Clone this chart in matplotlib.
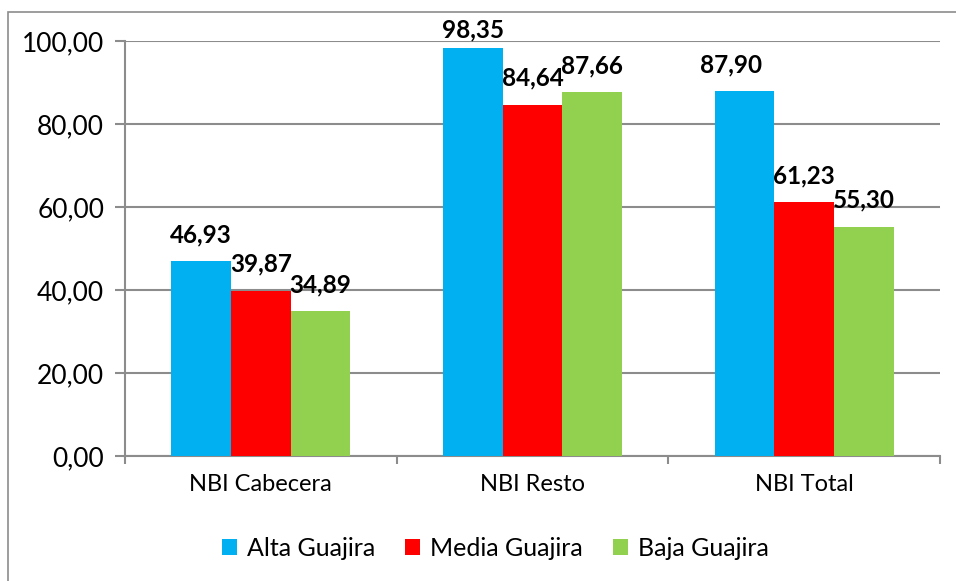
import matplotlib
matplotlib.use("Agg")
import matplotlib.pyplot as plt
from matplotlib.patches import Rectangle
from matplotlib.ticker import FuncFormatter
import numpy as np

categories = ["NBI Cabecera", "NBI Resto", "NBI Total"]
series_names = ["Alta Guajira", "Media Guajira", "Baja Guajira"]
alta = [46.93, 98.35, 87.90]
media = [39.87, 84.64, 61.23]
baja = [34.89, 87.66, 55.30]
colors = ["#00b0f0", "#ff0000", "#92d050"]

plt.rcParams['font.family'] = ['Lato', 'DejaVu Sans']

fig = plt.figure(figsize=(9.56, 5.81), dpi=100)
ax = fig.add_axes([125 / 956, 1 - 456 / 581, (940 - 125) / 956, (456 - 41) / 581])

# outer chart border
fig.patches.append(Rectangle((8 / 956, -0.01), 1.0, (581 - 12) / 581 + 0.01,
                             transform=fig.transFigure, fill=False,
                             edgecolor="#8c8c8c", linewidth=1.2))

x = np.arange(len(categories))
w = 0.22
grey = "#8c8c8c"

for i, (vals, name, c) in enumerate(zip([alta, media, baja], series_names, colors)):
    pos = x + (i - 1) * w
    ax.bar(pos, vals, width=w, color=c, label=name, zorder=3)
    for px, v in zip(pos, vals):
        dy = 19
        dx = 0
        if v > 95:
            dy = 13
        if i == 0 and px > 1.5:
            dx = -10
        ax.annotate(f"{v:.2f}".replace(".", ","), (px, v), xytext=(dx, dy),
                    textcoords="offset points", ha="center", va="center",
                    fontsize=17.5, fontweight="bold", annotation_clip=False)

ax.set_xlim(-0.5, 2.5)
ax.set_ylim(0, 100)
ax.set_yticks(np.arange(0, 101, 20))
ax.yaxis.set_major_formatter(FuncFormatter(lambda v, p: f"{v:.2f}".replace(".", ",")))
ax.set_xticks(x)
ax.set_xticklabels(categories)
ax.set_xticks([-0.5, 0.5, 1.5, 2.5], minor=True)
ax.tick_params(axis="x", which="major", length=0, pad=13, labelsize=17)
ax.tick_params(axis="x", which="minor", length=6, color=grey, width=1.5, direction="out")
ax.tick_params(axis="y", length=7, color=grey, width=1.5, pad=8, labelsize=19)

ax.grid(axis="y", color=grey, linewidth=1.5, zorder=0)
for s in ["top", "right"]:
    ax.spines[s].set_visible(False)
ax.spines["left"].set_color(grey)
ax.spines["left"].set_linewidth(1.5)
ax.spines["bottom"].set_color(grey)
ax.spines["bottom"].set_linewidth(1.5)

fig.legend(loc="center", bbox_to_anchor=(495 / 956, 1 - 548 / 581), ncol=3,
           frameon=False, fontsize=18, handlelength=0.6, handleheight=0.6,
           handletextpad=0.4, columnspacing=1.2)

fig.savefig("out.png", dpi=100)
